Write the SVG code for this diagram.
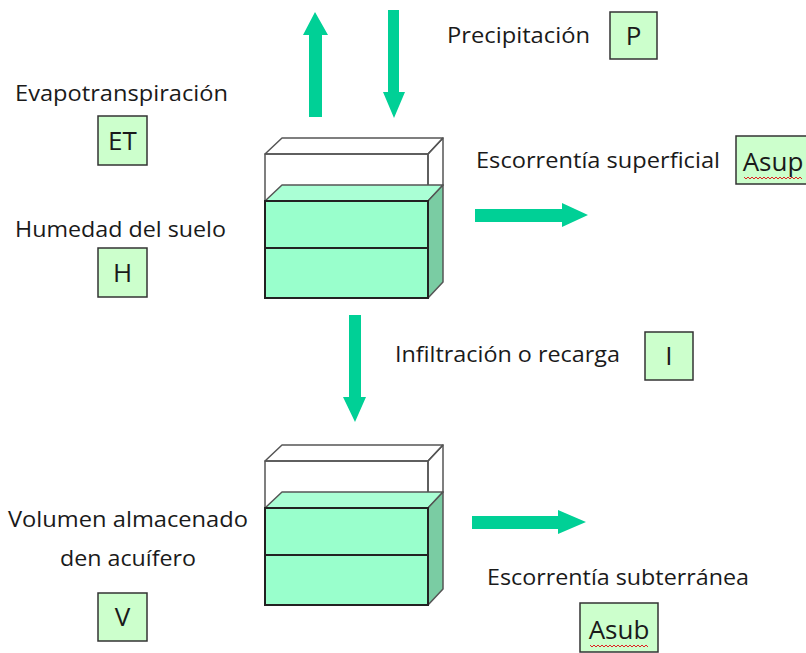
<svg xmlns="http://www.w3.org/2000/svg" width="806" height="653" viewBox="0 0 806 653">
<style>
.t{font-family:"Open Sans","Noto Sans","Liberation Sans",sans-serif;font-size:22px;fill:#1a1a1a}
.k{font-family:"Open Sans","Noto Sans","Liberation Sans",sans-serif;font-size:26px;fill:#1a1a1a;text-anchor:middle}
.lb{fill:#ccffcc;stroke:#333;stroke-width:1.5}
.ar{fill:#00d096}
.edge{fill:none;stroke:#555;stroke-width:1.5;stroke-linejoin:round}
.front{fill:#99ffcc;stroke:#222;stroke-width:2}
.top{fill:#aaffd5;stroke:#555;stroke-width:1.5;stroke-linejoin:round}
.side{fill:#7acca3;stroke:#555;stroke-width:1.5;stroke-linejoin:round}
.sq{fill:none;stroke:#e02020;stroke-width:1}
</style>
<defs>
<g id="tank">
<polygon class="edge" points="265,154 282,138 443,138 428,154"/>
<polygon class="edge" points="428,154 443,138 443,185 428,201"/>
<rect class="edge" x="265" y="154" width="163" height="47"/>
<polygon class="top" points="265,201 282,185 443,185 428,201"/>
<polygon class="side" points="428,201 443,185 443,282 428,298"/>
<rect class="front" x="265" y="201" width="163" height="47"/>
<rect class="front" x="265" y="248" width="163" height="50"/>
</g>
</defs>
<g id="soil-tank"><use href="#tank"/></g>
<g id="aquifer-tank"><use href="#tank" transform="translate(0,307)"/></g>
<g id="connectors">
<polygon class="ar" points="309,117 309,35 303,35 315,12 328,35 322,35 322,117"/>
<polygon class="ar" points="388,10 399,10 399,92 405,92 394,118 383,92 388,92"/>
<polygon class="ar" points="475,209 562,209 562,203 588,215 562,227 562,222 475,222"/>
<polygon class="ar" points="349,315 361,315 361,397 366,397 355,422 343,397 349,397"/>
<polygon class="ar" points="472,516 558,516 558,510 586,522 558,534 558,529 472,529"/>
</g>
<g id="et">
<text class="t" x="15" y="101" textLength="213" lengthAdjust="spacingAndGlyphs">Evapotranspiración</text>
<rect class="lb" x="98" y="116" width="49" height="49"/>
<text class="k" x="122.5" y="150">ET</text>
</g>
<g id="h">
<text class="t" x="15" y="237" textLength="211" lengthAdjust="spacingAndGlyphs">Humedad del suelo</text>
<rect class="lb" x="98" y="248" width="49" height="49"/>
<text class="k" x="122.5" y="282">H</text>
</g>
<g id="p">
<text class="t" x="447" y="43" textLength="143" lengthAdjust="spacingAndGlyphs">Precipitación</text>
<rect class="lb" x="610" y="12" width="47" height="47"/>
<text class="k" x="633.5" y="45">P</text>
</g>
<g id="asup">
<text class="t" x="476" y="168" textLength="244" lengthAdjust="spacingAndGlyphs">Escorrentía superficial</text>
<rect class="lb" x="736" y="136" width="80" height="48"/>
<text class="k" x="773" y="171">Asup</text>
<path class="sq" d="M744,177 l2,2 l2,-2 l2,2 l2,-2 l2,2 l2,-2 l2,2 l2,-2 l2,2 l2,-2 l2,2 l2,-2 l2,2 l2,-2 l2,2 l2,-2 l2,2 l2,-2 l2,2 l2,-2 l2,2 l2,-2 l2,2 l2,-2 l2,2 l2,-2 l2,2 l2,-2 l2,2"/>
</g>
<g id="i">
<text class="t" x="395" y="362" textLength="225" lengthAdjust="spacingAndGlyphs">Infiltración o recarga</text>
<rect class="lb" x="645" y="332" width="48" height="48"/>
<text class="k" x="669" y="365">I</text>
</g>
<g id="v">
<text class="t" x="8" y="527" textLength="240" lengthAdjust="spacingAndGlyphs">Volumen almacenado</text>
<text class="t" x="60" y="566" textLength="136" lengthAdjust="spacingAndGlyphs">den acuífero</text>
<rect class="lb" x="98" y="593" width="49" height="48"/>
<text class="k" x="122.5" y="626">V</text>
</g>
<g id="asub">
<text class="t" x="487" y="585" textLength="262" lengthAdjust="spacingAndGlyphs">Escorrentía subterránea</text>
<rect class="lb" x="580" y="603" width="78" height="49"/>
<text class="k" x="619" y="639">Asub</text>
<path class="sq" d="M590,645 l2,2 l2,-2 l2,2 l2,-2 l2,2 l2,-2 l2,2 l2,-2 l2,2 l2,-2 l2,2 l2,-2 l2,2 l2,-2 l2,2 l2,-2 l2,2 l2,-2 l2,2 l2,-2 l2,2 l2,-2 l2,2 l2,-2 l2,2 l2,-2 l2,2 l2,-2 l2,2"/>
</g>
</svg>
